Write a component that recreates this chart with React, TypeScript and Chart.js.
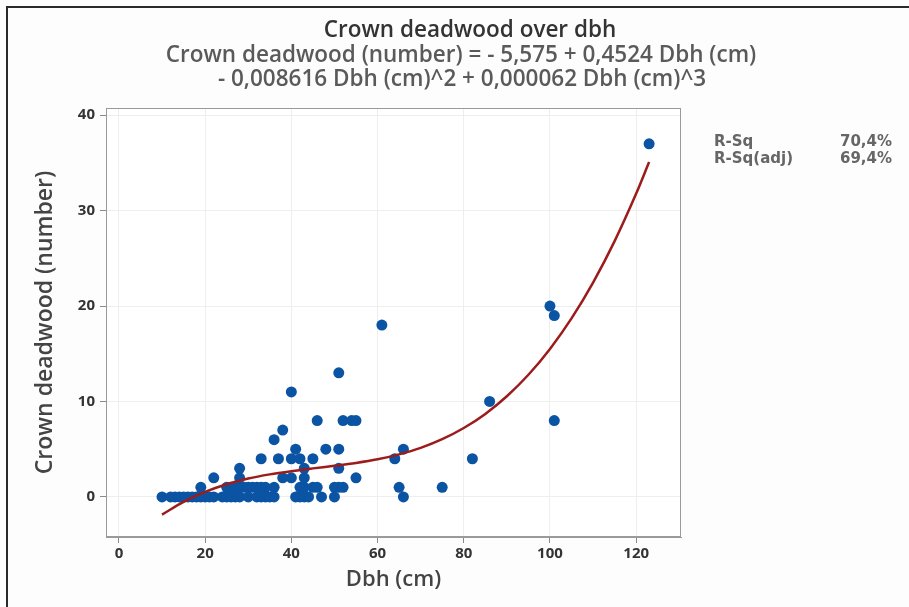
import React, { useEffect, useRef } from "react";
import { Chart, registerables } from "chart.js";

Chart.register(...registerables);

// Observed data: Dbh (cm) and crown deadwood count
const dbh = [
  10, 12, 13, 14, 15, 16, 17, 18, 19, 20, 21, 22, 24, 25, 26, 27, 28, 30, 32, 33, 34, 35, 36, 41, 42, 43, 44, 47, 50, 66,
  19, 25, 26, 27, 28, 29, 30, 31, 32, 33, 34, 36, 42, 43, 45, 46, 50, 51, 52, 65, 75,
  22, 28, 38, 40, 43, 55,
  28, 43, 51,
  33, 37, 40, 42, 45, 64, 82,
  41, 48, 51, 66,
  36, 38,
  46, 52, 54, 55, 101,
  86, 40, 51, 61, 101, 100, 123,
];
const deadwood = [
  0, 0, 0, 0, 0, 0, 0, 0, 0, 0, 0, 0, 0, 0, 0, 0, 0, 0, 0, 0, 0, 0, 0, 0, 0, 0, 0, 0, 0, 0,
  1, 1, 1, 1, 1, 1, 1, 1, 1, 1, 1, 1, 1, 1, 1, 1, 1, 1, 1, 1, 1,
  2, 2, 2, 2, 2, 2,
  3, 3, 3,
  4, 4, 4, 4, 4, 4, 4,
  5, 5, 5, 5,
  6, 7,
  8, 8, 8, 8, 8,
  10, 11, 13, 18, 19, 20, 37,
];

// Fitted cubic regression curve, sampled values
const fitX = [10, 15, 20, 25, 30, 35, 40, 45, 50, 55, 60, 65, 70, 75, 80, 85, 90, 95, 100, 105, 110, 115, 120, 123];
const fitY = [-1.85, -0.52, 0.52, 1.32, 1.92, 2.36, 2.7, 2.99, 3.26, 3.56, 3.94, 4.46, 5.14, 6.05, 7.22, 8.7, 10.55, 12.8, 15.51, 18.71, 22.46, 26.8, 31.78, 35.09];

const xTicks = [0, 20, 40, 60, 80, 100, 120];
const yTicks = [0, 10, 20, 30, 40];

const titleText = "Crown deadwood over dbh";
const subtitleLines = [
  "Crown deadwood (number) = - 5,575 + 0,4524 Dbh (cm)",
  "- 0,008616 Dbh (cm)^2 + 0,000062 Dbh (cm)^3",
];
const statLabels = ["R-Sq", "R-Sq(adj)"];
const statValues = ["70,4%", "69,4%"];

const decorPlugin = {
  id: "decor",
  beforeDraw(chart: any) {
    const { ctx, width, height } = chart;
    ctx.save();
    ctx.fillStyle = "#fdfdfd";
    ctx.fillRect(0, 0, width, height);
    const a = chart.chartArea;
    ctx.fillStyle = "#ffffff";
    ctx.fillRect(a.left, a.top, a.right - a.left, a.bottom - a.top);
    ctx.restore();
  },
  afterDraw(chart: any) {
    const { ctx, width, height } = chart;
    const a = chart.chartArea;
    ctx.save();
    // plot frame
    ctx.strokeStyle = "#9a9a9a";
    ctx.lineWidth = 1;
    ctx.strokeRect(a.left + 0.5, a.top + 0.5, a.right - a.left - 1, a.bottom - a.top - 1);
    // outer frame (top & left)
    ctx.strokeStyle = "#2a2a2a";
    ctx.lineWidth = 2;
    ctx.beginPath();
    ctx.moveTo(7, height);
    ctx.lineTo(7, 7);
    ctx.lineTo(width, 7);
    ctx.stroke();
    // titles
    ctx.textAlign = "center";
    ctx.textBaseline = "middle";
    ctx.fillStyle = "#333333";
    ctx.font = "600 22.5px 'Open Sans'";
    ctx.fillText(titleText, 470, 31);
    ctx.fillStyle = "#5a5a5a";
    ctx.font = "600 22.5px 'Open Sans'";
    ctx.fillText(subtitleLines[0], 461, 56);
    ctx.fillText(subtitleLines[1], 462, 80);
    // stats
    ctx.font = "bold 15px 'DejaVu Sans'";
    ctx.fillStyle = "#666666";
    for (let i = 0; i < statLabels.length; i++) {
      ctx.textAlign = "left";
      ctx.fillText(statLabels[i], 714, 142 + i * 17);
      ctx.textAlign = "right";
      ctx.fillText(statValues[i], 892, 142 + i * 17);
    }
    ctx.restore();
  },
};

export default function App() {
  const ref = useRef<HTMLCanvasElement>(null);
  useEffect(() => {
    if (!ref.current) return;
    const points = dbh.map((x, i) => ({ x, y: deadwood[i] }));
    const fit = fitX.map((x, i) => ({ x, y: fitY[i] }));
    const chart = new Chart(ref.current, {
      type: "scatter",
      data: {
        datasets: [
          {
            label: "Fit",
            data: fit,
            showLine: true,
            borderColor: "#9c1c1c",
            borderWidth: 2.5,
            pointRadius: 0,
            cubicInterpolationMode: "monotone",
          } as any,
          {
            label: "Crown deadwood",
            data: points,
            backgroundColor: "#0b54a3",
            borderColor: "#0b54a3",
            borderWidth: 0,
            pointRadius: 5.5,
          },
        ],
      },
      plugins: [decorPlugin],
      options: {
        responsive: false,
        animation: false,
        layout: { padding: { left: 0, top: 108, right: 228, bottom: 0 } },
        plugins: {
          legend: { display: false },
          tooltip: { enabled: false },
          title: { display: false },
        },
        scales: {
          x: {
            type: "linear",
            min: -3,
            max: 130.4,
            afterFit: (s: any) => { s.height = 70; },
            afterBuildTicks: (s: any) => { s.ticks = xTicks.map((v) => ({ value: v })); },
            grid: { color: "#eeeeee", tickColor: "#8a8a8a", tickLength: 6 },
            border: { color: "#9a9a9a" },
            ticks: {
              color: "#333333",
              padding: 2,
              font: { family: "'Open Sans'", size: 15, weight: "bold" },
            },
            title: {
              display: true,
              text: "Dbh (cm)",
              color: "#444444",
              font: { family: "'Open Sans'", size: 22, weight: "600" },
              padding: { top: 0, bottom: 14 },
            },
          },
          y: {
            type: "linear",
            min: -4.2,
            max: 40.75,
            afterFit: (s: any) => { s.width = 106; },
            afterBuildTicks: (s: any) => { s.ticks = yTicks.map((v) => ({ value: v })); },
            grid: { color: "#eeeeee", tickColor: "#8a8a8a", tickLength: 6 },
            border: { color: "#9a9a9a" },
            ticks: {
              color: "#333333",
              padding: 5,
              font: { family: "'Open Sans'", size: 15, weight: "bold" },
            },
            title: {
              display: true,
              text: "Crown deadwood (number)",
              color: "#444444",
              font: { family: "'Open Sans'", size: 23, weight: "600" },
              padding: { top: 32, bottom: 0 },
            },
          },
        },
      },
    });
    return () => chart.destroy();
  }, []);
  return (
    <div style={{ position: "absolute", left: 0, top: 0, width: 909, height: 607 }}>
      <canvas ref={ref} width={909} height={607} />
    </div>
  );
}
